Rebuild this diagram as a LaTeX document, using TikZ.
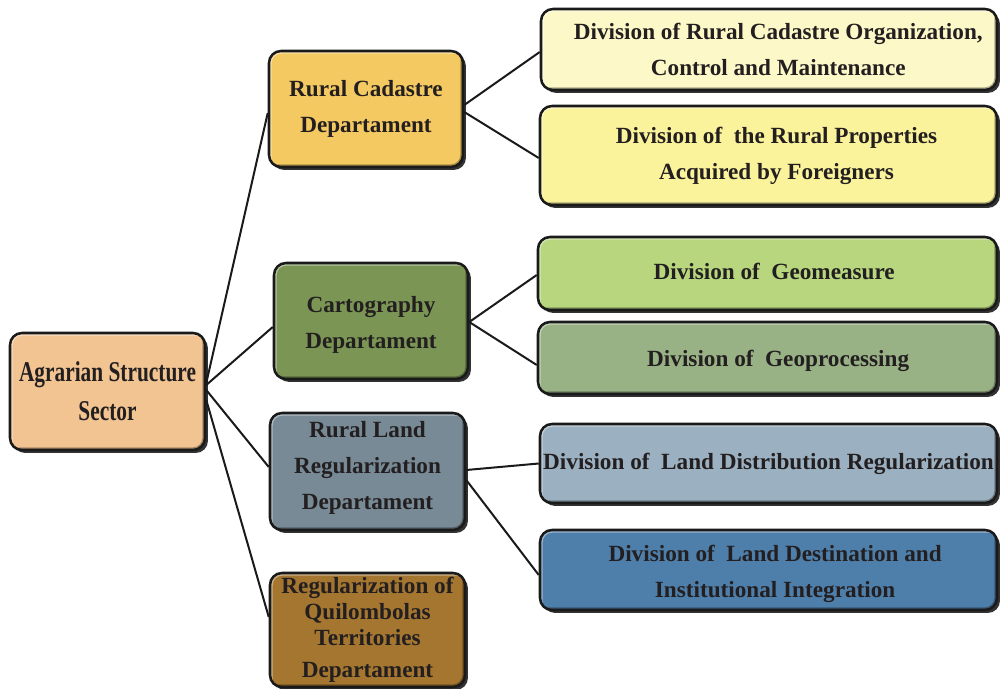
\documentclass[tikz,border=0pt]{standalone}
\usepackage{fontspec}
\setmainfont{Liberation Serif}
\newfontfamily\narrowserif[FakeStretch=0.745]{Liberation Serif}
\usetikzlibrary{shadows,calc}

\definecolor{inktext}{HTML}{231F20}
\definecolor{inkline}{HTML}{1A1A1A}
\definecolor{cRoot}{HTML}{F2C492}
\definecolor{cCad}{HTML}{F5C961}
\definecolor{cCadA}{HTML}{FCF8C8}
\definecolor{cCadB}{HTML}{FAF39B}
\definecolor{cCarto}{HTML}{7A9554}
\definecolor{cCartoA}{HTML}{B7D67E}
\definecolor{cCartoB}{HTML}{99B285}
\definecolor{cLand}{HTML}{778A96}
\definecolor{cLandA}{HTML}{9BB0C0}
\definecolor{cLandB}{HTML}{4E7EAA}
\definecolor{cQuil}{HTML}{A5762F}

\newcommand\pxlen{0.75pt}
% label block with extra room above (#1) and below (#2), which moves it inside a centred box
\newcommand\padtext[3]{\raisebox{0pt}[\dimexpr\height+#1\relax][\dimexpr\depth+#2\relax]{#3}}
\newcommand\lines[2][140pt]{\parbox{#1}{\centering #2}}

\tikzset{
  orgbox/.style={
    rectangle, rounded corners=9pt, draw=inkline, line width=1.9pt,
    text=inktext, align=center, inner sep=0pt,
    font=\bfseries\fontsize{17.4}{27}\selectfont,
    drop shadow={shadow xshift=2.2pt, shadow yshift=-2.2pt, opacity=.8, fill=black},
    path picture={
      \draw[white, opacity=.45, line width=4pt, rounded corners=9pt]
        (path picture bounding box.south west) -- (path picture bounding box.north west)
        -- (path picture bounding box.north east);
      \draw[black, opacity=.3, line width=4pt, rounded corners=9pt]
        (path picture bounding box.north east) -- (path picture bounding box.south east)
        -- (path picture bounding box.south west);
    }
  },
  link/.style={draw=inkline, line width=1.5pt}
}

\begin{document}
\begin{tikzpicture}[x=0.75pt, y=-0.75pt]
\useasboundingbox (0,0) rectangle (1000,689);

% sector
\node[orgbox, fill=cRoot, minimum width={195*\pxlen}, minimum height={117*\pxlen},
      font=\bfseries\narrowserif\fontsize{21.5}{29.25}\selectfont]
  (root) at (107.5,391.5) {Agrarian Structure\\Sector};

% departments
\node[orgbox, fill=cCad, minimum width={194*\pxlen}, minimum height={116*\pxlen}]
  (cad) at (366,109) {Rural Cadastre\\Departament};
\node[orgbox, fill=cCarto, minimum width={194*\pxlen}, minimum height={116*\pxlen}]
  (carto) at (371,321) {\padtext{6pt}{0pt}{\lines{Cartography\\Departament}}};
\node[orgbox, fill=cLand, minimum width={195*\pxlen}, minimum height={117*\pxlen}]
  (land) at (367.5,471.5) {\padtext{0pt}{5pt}{\lines{Rural Land\\Regularization\\Departament}}};
\node[orgbox, fill=cQuil, minimum width={195*\pxlen}, minimum height={114*\pxlen},
      font=\bfseries\fontsize{17.4}{19.5}\selectfont]
  (quil) at (367.5,630) {Regularization of\\Quilombolas\\Territories\\[4.5pt]Departament};

% divisions
\node[orgbox, fill=cCadA, minimum width={456*\pxlen}, minimum height={81*\pxlen}]
  (cadA) at (769,49.5) {\hspace*{14pt}Division of Rural Cadastre Organization,\\\hspace*{14pt}Control and Maintenance};
\node[orgbox, fill=cCadB, minimum width={457*\pxlen}, minimum height={99*\pxlen}]
  (cadB) at (768.5,155.5) {\hspace*{12pt}Division of\ \ the Rural Properties\\\hspace*{12pt}Acquired by Foreigners};
\node[orgbox, fill=cCartoA, minimum width={459*\pxlen}, minimum height={73*\pxlen}]
  (cartoA) at (767.5,273.5) {\padtext{0pt}{3pt}{\hspace*{10pt}Division of\ \ Geomeasure}};
\node[orgbox, fill=cCartoB, minimum width={459*\pxlen}, minimum height={72*\pxlen}]
  (cartoB) at (767.5,358) {\padtext{4pt}{0pt}{\hspace*{16pt}Division of\ \ Geoprocessing}};
\node[orgbox, fill=cLandA, minimum width={457*\pxlen}, minimum height={79*\pxlen}]
  (landA) at (768.5,463.5) {Division of\ \ Land Distribution Regularization};
\node[orgbox, fill=cLandB, minimum width={457*\pxlen}, minimum height={80*\pxlen}]
  (landB) at (768.5,570) {\padtext{6pt}{0pt}{\lines[330pt]{\hspace*{10pt}Division of\ \ Land Destination and\\\hspace*{10pt}Institutional Integration}}};

% connectors: sector to departments
\draw[link] ($(root.east)+(0,-8.5)$) -- ($(cad.west)+(0,4)$);
\draw[link] ($(root.east)+(0,-6.5)$) -- ($(carto.west)+(0,6)$);
\draw[link] ($(root.east)+(0,-1.5)$) -- ($(land.west)+(0,-4.5)$);
\draw[link] ($(root.east)+(0,8.5)$) -- ($(quil.west)+(0,-13)$);

% connectors: departments to divisions
\draw[link] ($(cad.east)+(0,-4)$) -- ($(cadA.west)+(0,2.5)$);
\draw[link] ($(cad.east)+(0,3)$) -- ($(cadB.west)+(0,2.5)$);
\draw[link] ($(carto.east)+(0,1)$) -- ($(cartoA.west)+(0,1.5)$);
\draw[link] ($(carto.east)+(0,1)$) -- ($(cartoB.west)+(0,7)$);
\draw[link] ($(land.east)+(0,-1.5)$) -- ($(landA.west)+(0,0)$);
\draw[link] ($(land.east)+(0,8.5)$) -- ($(landB.west)+(0,5)$);
\end{tikzpicture}
\end{document}
